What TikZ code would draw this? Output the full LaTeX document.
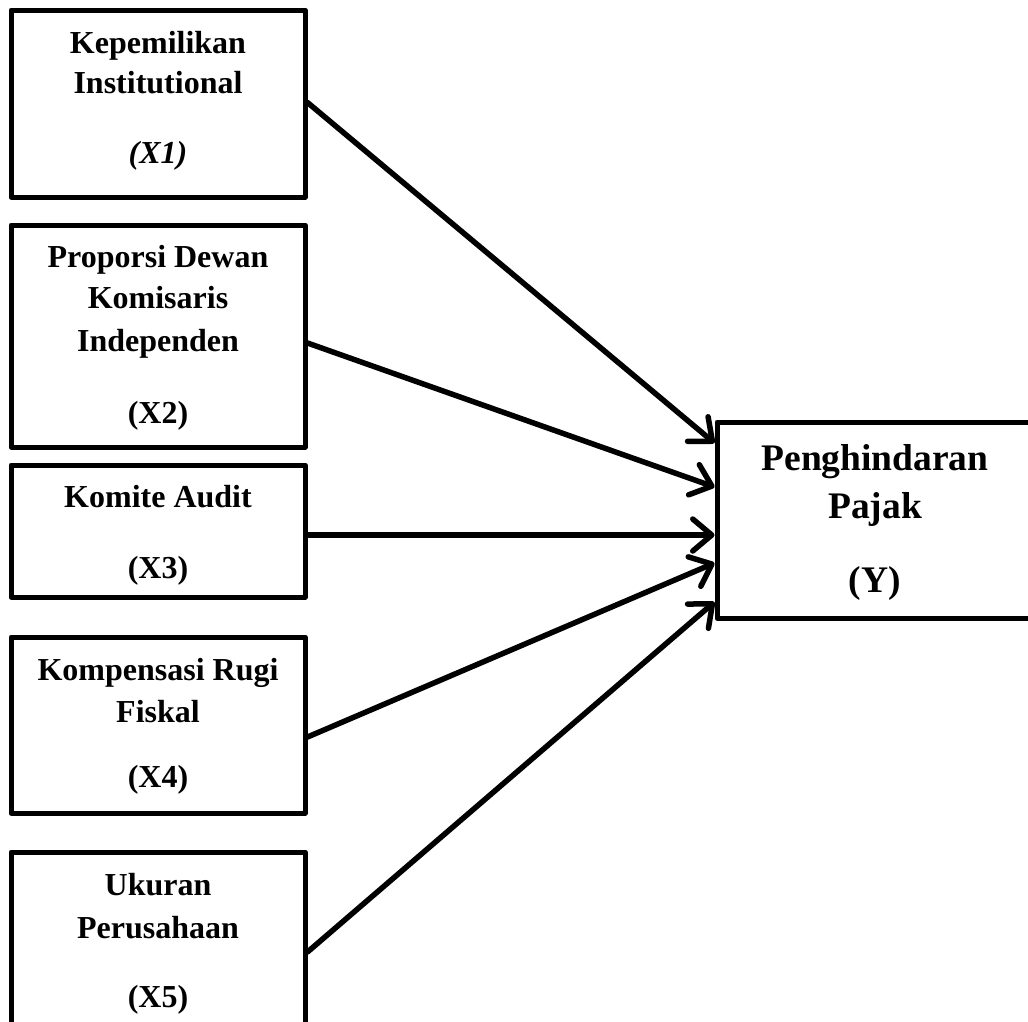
\documentclass[tikz,border=0pt]{standalone}
\usepackage{fontspec}
\setmainfont{Liberation Serif}
\usetikzlibrary{arrows.meta}
\begin{document}
\begin{tikzpicture}[x=1pt,y=-1pt,
  box/.style={draw, line width=5pt, fill=white, inner sep=0pt, line join=round},
  lbox/.style={box, minimum width=294pt},
  txt/.style={font=\fontsize{32}{38}\selectfont\bfseries, anchor=base, inner sep=0pt},
  ytxt/.style={font=\fontsize{37.5}{44}\selectfont\bfseries, anchor=base, inner sep=0pt},
  arr/.style={line width=5.5pt, line cap=round, line join=round,
    -{Straight Barb[length=19pt,width=32pt,line cap=round,line join=round]}}
]
\useasboundingbox (0,0) rectangle (1028,1021);
\clip (0,0) rectangle (1028,1021);
% boxes
\node[lbox, minimum height=187pt] (b1) at (158,103.5) {};
\node[lbox, minimum height=222pt] (b2) at (158,336) {};
\node[lbox, minimum height=132pt] (b3) at (158,531) {};
\node[lbox, minimum height=176pt] (b4) at (158,725) {};
\node[lbox, minimum height=198pt] (b5) at (158,951) {};
\node[box, minimum width=317pt, minimum height=196pt] (y) at (875.5,520) {};
% texts
\node[txt] (t1a) at (158,53) {Kepemilikan};
\node[txt] (t1b) at (158,93) {Institutional};
\node[txt] (t1c) at (158,163) {\itshape (X1)};
\node[txt] (t2a) at (158,267) {Proporsi Dewan};
\node[txt] (t2b) at (158,308) {Komisaris};
\node[txt] (t2c) at (158,351) {Independen};
\node[txt] (t2d) at (158,423) {(X2)};
\node[txt] (t3a) at (158,507) {Komite Audit};
\node[txt] (t3b) at (158,578) {(X3)};
\node[txt] (t4a) at (158,680) {Kompensasi Rugi};
\node[txt] (t4b) at (158,722) {Fiskal};
\node[txt] (t4c) at (158,787) {(X4)};
\node[txt] (t5a) at (158,895) {Ukuran};
\node[txt] (t5b) at (158,938) {Perusahaan};
\node[txt] (t5c) at (158,1007) {(X5)};
\node[ytxt] (ya) at (875,470) {Penghindaran};
\node[ytxt] (yb) at (875,518) {Pajak};
\node[ytxt] (yc) at (875,592) {(Y)};
% arrows
\draw[arr] ([yshift=1pt]b1.east) -- ([yshift=77pt]y.west);
\draw[arr] ([yshift=-7pt]b2.east) -- ([yshift=33pt]y.west);
\draw[arr] ([yshift=-4pt]b3.east) -- ([yshift=-15pt]y.west);
\draw[arr] ([yshift=-12pt]b4.east) -- ([yshift=-43pt]y.west);
\draw[arr] ([yshift=-1pt]b5.east) -- ([yshift=-82pt]y.west);
\end{tikzpicture}
\end{document}
